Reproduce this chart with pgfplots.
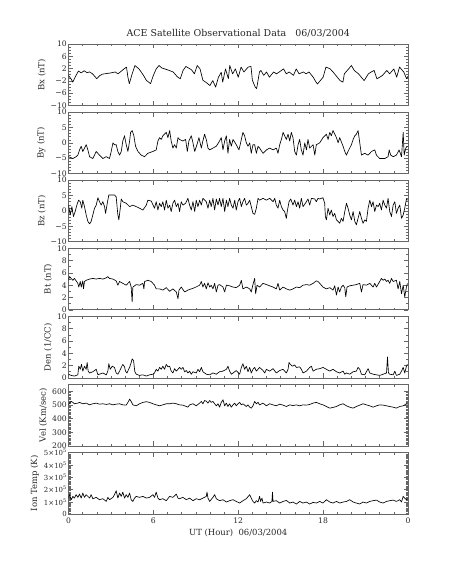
\documentclass[border=0pt]{standalone}
\usepackage{fontspec}
\setmainfont{DejaVu Serif}
\usepackage{pgfplots}
\pgfplotsset{compat=1.18}
\pgfplotsset{
 panel/.style={
  scale only axis, width=339.5bp, height=61.5bp, anchor=north west,
  xmin=0, xmax=24, xtick={0,6,12,18,24}, minor xtick={1,...,23}, xticklabels={},
  tick align=inside, major tick length=4.5bp, minor tick length=2.2bp,
  axis line style={black!60, line width=0.6bp},
  every tick/.append style={black!60, line width=0.5bp},
  /pgf/number format/assume math mode=true,
  tick label style={font=\fontsize{7.7}{8}\selectfont, black!85},
  yticklabel style={inner xsep=1.5bp, inner ysep=0pt},
  ylabel style={font=\fontsize{8.5}{9.5}\selectfont, black!85},
 },
 trace/.style={black, line width=0.65bp, line join=round}
}
\begin{document}
\begin{tikzpicture}
\path[use as bounding box] (0,0) rectangle (453bp,566bp);

% ---------------- Bx
\begin{axis}[panel, at={(68.5bp,522bp)}, ymin=-10, ymax=10,
  ytick={-10,-6,-2,2,6,10}, yticklabels={−10,−6,−2,2,6,10}, minor ytick={-10,...,10},
  ylabel={Bx (nT)},
  title={ACE Satellite Observational Data\ \ \ 06/03/2004},
  title style={font=\fontsize{9.5}{11}\selectfont, yshift=-3bp, black!85}]
\addplot[trace] coordinates {
(0.0,-0.2)(0.2,-1.5)(0.3,-2.4)(0.5,-0.5)(0.7,1.2)(0.9,0.6)(1.1,1.3)(1.3,0.7)(1.5,0.9)(1.7,0.3)
(2.0,-1.3)(2.2,-0.3)(2.4,0.2)(2.7,0.4)(3.0,0.6)(3.3,0.9)(3.5,0.3)(3.9,1.8)(4.1,2.5)(4.2,-0.8)
(4.3,-2.9)(4.5,0.3)(4.7,3.0)(5.0,1.8)(5.3,-0.2)(5.5,-1.8)(5.8,-2.9)(6.0,-0.2)(6.2,1.9)(6.4,3.0)
(6.6,2.2)(7.0,1.6)(7.4,0.9)(7.7,-0.7)(7.9,-1.3)(8.1,1.4)(8.3,2.7)(8.7,1.6)(8.9,0.3)(9.1,3.0)
(9.3,1.9)(9.5,-1.8)(9.7,-2.4)(10.0,-3.5)(10.2,-1.9)(10.4,-4.0)(10.6,-0.8)(10.8,0.8)(10.9,-2.4)(11.1,1.9)
(11.3,-1.3)(11.4,3.0)(11.6,0.3)(11.8,1.9)(12.0,-0.8)(12.2,2.5)(12.4,0.9)(12.7,2.5)(12.9,2.7)(13.0,-1.8)
(13.2,-4.0)(13.3,-4.5)(13.5,0.9)(13.6,1.4)(13.8,-0.2)(14.0,0.9)(14.2,-0.8)(14.5,0.9)(14.7,0.3)(14.9,0.9)
(15.2,1.9)(15.4,0.3)(15.6,0.9)(15.9,-0.2)(16.1,1.9)(16.3,0.3)(16.6,0.9)(16.8,0.3)(17.0,0.9)(17.3,-0.8)
(17.5,-2.4)(17.6,-3.0)(17.8,-1.9)(18.0,-0.8)(18.2,2.5)(18.5,1.9)(18.7,0.9)(19.0,-0.8)(19.2,-1.9)(19.4,-2.4)
(19.5,0.3)(19.8,1.9)(20.0,3.0)(20.2,1.4)(20.5,0.3)(20.7,-0.8)(20.9,-1.9)(21.2,0.3)(21.4,0.9)(21.6,1.4)
(21.8,-1.3)(22.0,-0.8)(22.2,-0.2)(22.5,1.4)(22.7,0.3)(23.0,1.9)(23.2,-0.8)(23.4,2.5)(23.7,0.9)(23.9,-1.3)(24.0,-0.5)
};
\end{axis}

% ---------------- By
\begin{axis}[panel, at={(68.5bp,453.9bp)}, ymin=-10, ymax=10,
  ytick={-10,-5,0,5,10}, yticklabels={−10,−5,0,5,10}, minor ytick={-10,...,10},
  ylabel={By (nT)}]
\addplot[trace] coordinates {
(0,-4.5)(0.31,-5.1)(0.54,-4.5)(0.66,-4.0)(0.78,-2.3)(0.90,-1.1)(1.01,-2.8)(1.13,-1.7)(1.25,-0.6)(1.37,-2.3)
(1.49,-4.5)(1.72,-5.1)(1.96,-2.8)(2.19,-4.0)(2.43,-5.1)(2.67,-4.5)(2.90,-5.1)(3.02,-2.8)(3.14,0.0)(3.25,-0.6)
(3.37,-0.6)(3.49,-2.8)(3.61,-4.0)(3.73,-2.8)(3.84,0.6)(3.96,2.3)(4.08,-0.6)(4.20,-2.8)(4.32,0.6)(4.39,3.4)
(4.50,4.0)(4.62,2.3)(4.74,-1.1)(4.91,-2.8)(5.14,-4.0)(5.38,-4.5)(5.61,-3.4)(5.97,-2.8)(6.20,-2.3)(6.32,0.6)
(6.44,1.7)(6.56,1.1)(6.67,2.3)(6.91,3.4)(7.03,1.7)(7.15,4.0)(7.26,0.6)(7.38,-1.7)(7.50,-0.6)(7.62,-1.7)
(7.74,1.7)(7.85,1.1)(8.09,0.6)(8.28,1.1)(8.40,-2.8)(8.51,0.6)(8.68,2.3)(8.80,0)(8.92,-2.8)(9.08,-0.6)
(9.22,1.7)(9.39,-1.7)(9.50,0.6)(9.62,2.8)(9.74,1.1)(9.86,-1.7)(9.98,-2.3)(10.21,-1.7)(10.45,-1.1)(10.68,0.6)
(10.80,1.7)(10.92,-2.3)(11.04,0.6)(11.16,2.3)(11.27,-3.4)(11.39,1.1)(11.51,-1.1)(11.63,1.1)(11.86,-0.6)(12.05,-2.3)
(12.22,1.1)(12.33,3.4)(12.45,2.3)(12.57,0)(12.69,-1.1)(12.81,0)(12.92,-3.4)(13.04,-0.6)(13.16,-0.6)(13.28,-3.4)
(13.40,-1.1)(13.51,-1.7)(13.75,-3.4)(13.99,-2.3)(14.22,-1.7)(14.46,-2.3)(14.69,-1.7)(14.81,-3.4)(14.93,-0.6)(15.05,1.1)
(15.17,3.4)(15.28,2.3)(15.40,1.1)(15.52,2.8)(15.64,0.6)(15.75,3.4)(15.87,1.7)(15.99,-2.8)(16.11,-4.0)(16.23,-0.6)
(16.34,1.1)(16.46,-2.3)(16.58,-4.0)(16.70,0)(16.82,-2.3)(16.93,1.1)(17.05,-1.7)(17.29,-0.6)(17.41,-4.0)(17.52,-0.6)
(17.76,0)(17.99,1.7)(18.23,2.8)(18.35,1.1)(18.47,3.4)(18.58,2.3)(18.70,4.0)(18.94,1.7)(19.06,0)(19.17,1.7)
(19.41,-1.1)(19.53,-2.8)(19.65,-4.0)(19.76,-2.8)(20.00,-0.6)(20.12,1.1)(20.24,2.3)(20.35,2.8)(20.47,4.0)(20.59,0)
(20.71,-4.0)(20.94,-3.4)(21.18,-4.0)(21.42,-2.8)(21.65,-2.3)(21.77,-4.0)(22.00,-5.1)(22.36,-5.1)(22.59,-4.5)(22.67,-2.3)
(22.78,-4.0)(22.95,-4.5)(23.18,-4.0)(23.37,-2.3)(23.54,-4.5)(23.66,3.4)(23.73,-4.0)(23.84,-1.7)(23.96,-1.1)
};
\end{axis}

% ---------------- Bz
\begin{axis}[panel, at={(68.5bp,385.8bp)}, ymin=-10, ymax=10,
  ytick={-10,-5,0,5,10}, yticklabels={−10,−5,0,5,10}, minor ytick={-10,...,10},
  ylabel={Bz (nT)}]
\addplot[trace] coordinates {
(0,1.9)(0.12,-1.3)(0.24,1.4)(0.35,-1.8)(0.47,-0.2)(0.59,1.9)(0.71,3.5)(0.83,3.0)(0.94,0.9)(1.01,3.5)
(1.13,1.4)(1.25,-1.3)(1.37,-3.4)(1.49,-4.2)(1.60,-3.4)(1.72,-1.3)(1.84,0.9)(1.96,1.9)(2.08,4.3)(2.19,3.0)
(2.31,1.9)(2.43,3.0)(2.55,1.4)(2.62,-0.8)(2.74,2.5)(2.85,5.2)(3.02,5.2)(3.25,5.2)(3.37,4.6)(3.49,-1.3)
(3.56,-2.9)(3.66,0.9)(3.73,3.9)(3.84,3.0)(4.08,2.5)(4.32,1.4)(4.55,1.9)(4.79,1.4)(5.02,0.9)(5.26,0.3)
(5.50,1.9)(5.61,3.5)(5.85,3.2)(6.08,0.9)(6.20,3.0)(6.32,0.3)(6.44,2.5)(6.56,1.4)(6.67,3.0)(6.79,0.3)
(6.91,3.5)(7.03,0.9)(7.15,1.9)(7.26,-0.2)(7.38,2.5)(7.50,3.5)(7.62,1.4)(7.74,2.5)(7.85,-0.2)(7.97,3.0)
(8.09,1.9)(8.28,2.5)(8.44,4.1)(8.56,1.9)(8.68,0.3)(8.80,3.0)(8.92,-0.2)(9.03,3.5)(9.15,1.4)(9.27,3.5)
(9.39,1.9)(9.50,4.1)(9.74,3.0)(9.86,0.9)(9.98,3.5)(10.09,1.4)(10.21,4.1)(10.33,0.3)(10.45,3.9)(10.57,1.9)
(10.68,4.1)(10.80,1.4)(10.92,4.1)(11.04,-0.2)(11.16,3.5)(11.27,1.4)(11.39,4.1)(11.51,1.9)(11.63,0.9)(11.75,3.5)
(11.86,0.3)(11.98,3.0)(12.10,4.1)(12.22,1.4)(12.33,3.0)(12.45,4.1)(12.57,1.9)(12.69,2.5)(12.81,3.5)(12.92,1.4)
(13.04,-0.8)(13.16,-1.1)(13.28,0.9)(13.40,4.1)(13.51,3.5)(13.75,4.1)(13.99,3.5)(14.22,4.1)(14.46,3.0)(14.58,4.1)
(14.69,1.9)(14.81,0.9)(14.93,3.5)(15.05,1.4)(15.17,0.3)(15.28,-0.2)(15.40,-2.4)(15.47,0)(15.59,3.0)(15.71,3.9)
(15.87,1.9)(15.99,3.5)(16.11,1.4)(16.23,3.0)(16.34,0.9)(16.46,4.1)(16.58,1.4)(16.82,3.0)(16.93,3.9)(17.05,1.9)
(17.17,4.1)(17.41,3.9)(17.52,3.0)(17.64,4.1)(17.76,3.9)(17.99,4.3)(18.11,2.5)(18.16,-1.8)(18.23,-2.9)(18.35,0.9)
(18.47,-1.3)(18.58,0.3)(18.70,-1.8)(18.82,-0.8)(18.94,-2.9)(19.06,-3.4)(19.17,-4.0)(19.29,-2.4)(19.41,-3.4)(19.53,-0.2)
(19.65,2.5)(19.76,0.9)(19.88,-1.3)(20.00,-2.9)(20.12,-0.2)(20.24,-3.4)(20.35,-4.5)(20.47,-2.4)(20.59,-0.2)(20.71,-2.4)
(20.82,-4.0)(20.94,-2.9)(21.06,-3.4)(21.18,0.9)(21.30,3.5)(21.42,1.4)(21.53,3.0)(21.65,-0.2)(21.77,1.9)(21.89,1.4)
(22.00,2.5)(22.12,0.3)(22.24,3.5)(22.36,1.9)(22.48,0.9)(22.59,4.1)(22.71,-0.2)(22.83,-1.8)(22.95,1.9)(23.07,3.0)
(23.18,-0.8)(23.30,0.9)(23.42,1.9)(23.54,-2.4)(23.66,-1.3)(23.77,0.9)(23.89,3.9)(23.96,3.5)
};
\end{axis}

% ---------------- Bt
\begin{axis}[panel, at={(68.5bp,317.7bp)}, ymin=0, ymax=10,
  ytick={0,2,4,6,8,10}, yticklabels={0,2,4,6,8,10}, minor ytick={0,...,10},
  ylabel={Bt (nT)}]
\addplot[trace] coordinates {
(0,4.8)(0.07,5.4)(0.19,5.1)(0.31,4.8)(0.42,5.1)(0.54,4.7)(0.66,4.3)(0.73,3.7)(0.83,4.6)(0.90,3.7)
(1.01,4.7)(1.06,3.4)(1.13,4.6)(1.25,4.8)(1.49,5.0)(1.72,5.1)(1.96,5.0)(2.19,5.1)(2.43,5.0)(2.67,5.2)
(2.78,5.4)(2.90,5.1)(3.14,5.0)(3.37,4.7)(3.49,4.0)(3.61,4.6)(3.84,4.3)(4.08,4.0)(4.32,4.6)(4.43,3.7)
(4.50,1.3)(4.55,3.7)(4.79,4.1)(5.02,4.0)(5.26,4.3)(5.33,3.4)(5.38,4.6)(5.61,4.8)(5.85,4.6)(6.08,4.0)
(6.20,3.4)(6.44,3.4)(6.67,3.2)(6.91,3.6)(7.15,3.0)(7.38,3.4)(7.62,2.9)(7.74,1.8)(7.81,3.2)(7.97,3.7)
(8.21,2.9)(8.44,3.2)(8.68,3.4)(8.92,3.6)(9.27,4.0)(9.39,4.6)(9.50,3.7)(9.62,4.3)(9.74,3.4)(9.86,4.4)
(9.98,3.7)(10.09,4.0)(10.21,3.4)(10.33,4.3)(10.45,2.9)(10.57,4.0)(10.68,4.1)(10.92,3.7)(11.04,2.9)(11.16,4.0)
(11.39,3.9)(11.63,3.7)(11.86,3.6)(12.10,4.0)(12.22,4.8)(12.33,3.4)(12.57,3.7)(12.81,3.4)(12.92,2.9)(13.04,4.1)
(13.16,5.1)(13.23,2.6)(13.33,4.0)(13.51,3.7)(13.75,4.3)(13.99,4.1)(14.22,3.9)(14.46,3.7)(14.69,3.4)(14.81,4.3)
(14.93,3.2)(15.17,3.7)(15.40,3.4)(15.64,3.2)(15.87,3.4)(16.11,3.7)(16.34,3.6)(16.58,4.0)(16.82,4.1)(17.05,4.0)
(17.29,4.3)(17.52,4.7)(17.64,4.6)(17.76,4.3)(17.99,3.7)(18.23,3.4)(18.47,3.6)(18.70,3.2)(18.82,3.9)(18.94,2.4)
(19.06,3.7)(19.17,2.9)(19.29,3.7)(19.41,4.0)(19.53,3.6)(19.60,2.1)(19.69,3.7)(19.88,3.9)(20.12,4.0)(20.35,4.1)
(20.59,4.3)(20.71,2.9)(20.82,4.1)(21.06,4.0)(21.30,4.3)(21.53,3.7)(21.65,4.3)(21.77,3.7)(22.00,4.6)(22.12,5.1)
(22.24,4.8)(22.36,5.0)(22.48,4.6)(22.59,4.8)(22.71,4.3)(22.83,5.1)(22.95,4.6)(23.18,4.8)(23.30,3.4)(23.42,4.6)
(23.54,2.6)(23.66,4.0)(23.77,2.1)(23.89,3.7)(23.96,4.3)
};
\end{axis}

% ---------------- Den
\begin{axis}[panel, at={(68.5bp,249.6bp)}, ymin=0, ymax=10,
  ytick={0,2,4,6,8,10}, yticklabels={0,2,4,6,8,10}, minor ytick={0,...,10},
  ylabel={Den (1/CC)}]
\addplot[trace] coordinates {
(0,0.6)(0.19,0.4)(0.42,0.3)(0.66,0.5)(0.73,1.9)(0.83,1.4)(0.92,2.2)(1.01,1.1)(1.13,1.9)(1.25,1.4)
(1.32,2.5)(1.39,1.1)(1.49,0.8)(1.72,1.0)(1.96,1.4)(2.08,0.5)(2.19,0.6)(2.43,0.8)(2.67,0.5)(2.78,1.1)
(2.85,2.3)(2.95,1.4)(3.09,1.9)(3.25,1.7)(3.37,0.8)(3.49,0.6)(3.61,1.1)(3.73,1.7)(3.84,2.2)(3.96,1.8)
(4.03,1.1)(4.13,0.8)(4.32,1.7)(4.43,2.5)(4.50,3.1)(4.60,2.8)(4.69,1.0)(4.79,0.6)(5.02,0.4)(5.26,0.5)
(5.50,0.3)(5.73,0.5)(5.97,0.6)(6.08,0.8)(6.20,1.4)(6.32,1.1)(6.44,1.7)(6.56,1.4)(6.67,1.9)(6.79,1.4)
(6.91,2.2)(7.03,1.8)(7.15,1.9)(7.26,1.1)(7.38,0.8)(7.50,1.5)(7.62,1.1)(7.74,1.4)(7.85,1.7)(7.97,1.4)
(8.09,1.7)(8.21,1.0)(8.33,1.2)(8.44,0.8)(8.56,1.1)(8.68,0.6)(8.80,1.0)(9.03,0.8)(9.15,1.4)(9.27,1.0)
(9.39,1.7)(9.50,1.0)(9.74,0.6)(9.98,0.5)(10.21,0.8)(10.45,0.6)(10.68,1.0)(10.92,1.1)(11.16,1.4)(11.27,1.9)
(11.39,1.1)(11.51,0.6)(11.63,0.8)(11.86,1.2)(12.10,0.6)(12.22,1.7)(12.33,2.3)(12.45,1.4)(12.57,1.9)(12.69,1.0)
(12.81,1.7)(12.92,0.8)(13.04,1.4)(13.16,1.7)(13.28,1.1)(13.51,1.7)(13.75,1.2)(13.87,0.8)(13.99,1.4)(14.22,1.1)
(14.46,1.5)(14.69,0.8)(14.93,1.2)(15.17,1.4)(15.40,0.8)(15.52,1.4)(15.59,2.5)(15.68,2.2)(15.83,1.9)(15.99,2.1)
(16.11,1.7)(16.34,1.8)(16.46,1.4)(16.58,0.8)(16.82,1.1)(17.05,1.7)(17.17,1.9)(17.29,1.1)(17.52,1.4)(17.76,1.5)
(17.99,1.7)(18.23,1.4)(18.47,1.1)(18.70,1.4)(18.94,1.0)(19.17,0.8)(19.41,1.1)(19.53,0.6)(19.65,0.8)(19.88,0.6)
(20.12,1.0)(20.35,1.1)(20.47,1.7)(20.59,1.4)(20.71,0.6)(20.94,0.5)(21.06,1.0)(21.18,1.5)(21.30,0.8)(21.53,0.6)
(21.77,0.5)(22.00,0.4)(22.24,0.6)(22.48,0.8)(22.55,3.4)(22.62,0.8)(22.71,0.6)(22.95,0.5)(23.07,1.1)(23.18,0.4)
(23.42,0.6)(23.54,1.1)(23.66,1.7)(23.77,0.8)(23.89,1.9)(23.96,2.2)
};
\end{axis}

% ---------------- Vel
\begin{axis}[panel, at={(68.5bp,181.5bp)}, ymin=200, ymax=650,
  ytick={200,300,400,500,600}, yticklabels={200,300,400,500,600}, minor tick num=9,
  ylabel={Vel (Km/sec)}]
\addplot[trace] coordinates {
(0,501)(0.07,514)(0.19,526)(0.31,519)(0.42,509)(0.66,514)(0.78,519)(1.01,509)(1.25,514)(1.49,501)
(1.72,509)(1.96,514)(2.19,506)(2.43,509)(2.67,504)(2.90,509)(3.14,501)(3.37,506)(3.61,509)(3.84,501)
(4.08,499)(4.20,519)(4.32,543)(4.43,526)(4.55,501)(4.79,494)(5.02,509)(5.26,519)(5.50,524)(5.73,519)
(5.97,509)(6.20,501)(6.44,494)(6.67,501)(6.91,509)(7.15,509)(7.38,514)(7.62,509)(7.85,501)(8.09,499)
(8.33,489)(8.44,484)(8.56,501)(8.80,509)(9.03,494)(9.27,514)(9.39,526)(9.50,509)(9.62,533)(9.74,528)
(9.86,514)(9.98,533)(10.09,519)(10.21,526)(10.33,509)(10.45,494)(10.57,509)(10.68,484)(10.80,519)(10.92,538)
(11.04,494)(11.16,514)(11.27,489)(11.39,509)(11.51,484)(11.63,501)(11.75,514)(11.86,494)(11.98,509)(12.10,519)
(12.22,501)(12.33,509)(12.57,489)(12.69,501)(12.81,484)(12.92,477)(13.04,494)(13.16,526)(13.28,509)(13.40,519)
(13.51,501)(13.75,514)(13.99,494)(14.22,509)(14.46,501)(14.69,494)(14.93,506)(15.17,499)(15.40,489)(15.64,501)
(15.87,496)(16.11,501)(16.34,494)(16.58,501)(16.82,499)(17.05,504)(17.29,514)(17.52,519)(17.76,509)(17.99,501)
(18.23,489)(18.47,477)(18.70,482)(18.94,489)(19.17,501)(19.41,509)(19.65,494)(19.88,484)(20.12,477)(20.35,489)
(20.59,499)(20.82,509)(21.06,501)(21.30,494)(21.53,484)(21.77,494)(22.00,501)(22.24,499)(22.48,494)(22.71,489)
(22.95,484)(23.18,477)(23.42,489)(23.66,494)(23.89,509)(23.96,504)
};
\end{axis}

% ---------------- Ion Temp
\begin{axis}[panel, at={(68.5bp,113.4bp)}, ymin=0, ymax=500000,
  ytick={0,100000,200000,300000,400000,500000},
  yticklabels={0,1×10\textsuperscript{5},2×10\textsuperscript{5},3×10\textsuperscript{5},4×10\textsuperscript{5},5×10\textsuperscript{5}},
  yticklabel style={font=\fontsize{7}{7}\selectfont},
  minor tick num=9, scaled y ticks=false,
  xticklabels={0,6,12,18,0},
  ylabel={Ion Temp (K)},
  xlabel={UT (Hour)\ \ 06/03/2004},
  xlabel style={font=\fontsize{8.5}{9.5}\selectfont, black!85, yshift=1bp}]
\addplot[trace] coordinates {
(0,1.30e5)(0.07,1.58e5)(0.19,1.17e5)(0.31,1.44e5)(0.42,1.30e5)(0.54,1.58e5)(0.66,1.36e5)(0.78,1.63e5)(0.90,1.30e5)(1.01,1.71e5)
(1.13,1.36e5)(1.25,1.58e5)(1.37,1.44e5)(1.49,1.30e5)(1.60,1.58e5)(1.72,1.25e5)(1.96,1.36e5)(2.19,1.17e5)(2.43,1.25e5)(2.67,1.03e5)
(2.78,1.36e5)(2.90,1.17e5)(3.14,1.36e5)(3.25,1.58e5)(3.37,1.90e5)(3.49,1.30e5)(3.61,1.71e5)(3.73,1.44e5)(3.84,1.79e5)(3.96,1.30e5)
(4.08,1.58e5)(4.20,1.36e5)(4.32,1.71e5)(4.43,1.17e5)(4.55,1.03e5)(4.67,1.30e5)(4.79,1.44e5)(5.02,1.36e5)(5.26,1.44e5)(5.50,1.30e5)
(5.73,1.36e5)(5.97,1.58e5)(6.08,1.36e5)(6.20,1.79e5)(6.32,1.30e5)(6.44,1.17e5)(6.67,1.25e5)(6.91,1.09e5)(7.15,1.44e5)(7.38,1.36e5)
(7.62,1.63e5)(7.74,1.30e5)(7.85,1.25e5)(8.09,1.36e5)(8.33,1.17e5)(8.56,1.30e5)(8.80,1.09e5)(9.03,1.25e5)(9.27,1.17e5)(9.50,1.30e5)
(9.74,1.44e5)(9.79,1.79e5)(9.86,1.30e5)(9.98,1.03e5)(10.21,1.36e5)(10.33,1.58e5)(10.45,1.25e5)(10.68,1.09e5)(10.92,1.17e5)(11.16,0.98e5)
(11.39,1.09e5)(11.63,1.17e5)(11.86,1.03e5)(12.10,0.90e5)(12.33,1.09e5)(12.57,1.25e5)(12.81,1.58e5)(12.92,1.30e5)(13.04,1.03e5)(13.16,0.90e5)
(13.28,1.09e5)(13.40,0.98e5)(13.51,1.44e5)(13.58,1.03e5)(13.68,1.30e5)(13.75,0.90e5)(13.99,0.98e5)(14.22,0.90e5)(14.38,1.03e5)(14.42,1.79e5)
(14.46,1.03e5)(14.69,1.09e5)(14.93,0.90e5)(15.17,1.03e5)(15.40,1.11e5)(15.64,0.90e5)(15.87,0.98e5)(16.11,0.82e5)(16.34,1.03e5)(16.58,0.90e5)
(16.82,0.98e5)(17.05,0.82e5)(17.29,0.95e5)(17.52,0.90e5)(17.76,1.03e5)(17.99,0.90e5)(18.23,1.17e5)(18.47,0.98e5)(18.70,0.90e5)(18.94,1.03e5)
(19.17,0.90e5)(19.41,0.98e5)(19.65,1.03e5)(19.88,1.17e5)(20.12,0.98e5)(20.35,0.90e5)(20.59,0.82e5)(20.82,0.98e5)(21.06,0.90e5)(21.30,1.03e5)
(21.53,1.09e5)(21.77,1.14e5)(22.00,0.98e5)(22.24,0.90e5)(22.48,1.03e5)(22.71,1.09e5)(22.95,1.14e5)(23.18,1.03e5)(23.42,1.17e5)(23.54,0.98e5)
(23.66,1.44e5)(23.77,1.30e5)(23.89,1.17e5)(23.96,1.25e5)
};
\end{axis}
\end{tikzpicture}
\end{document}
